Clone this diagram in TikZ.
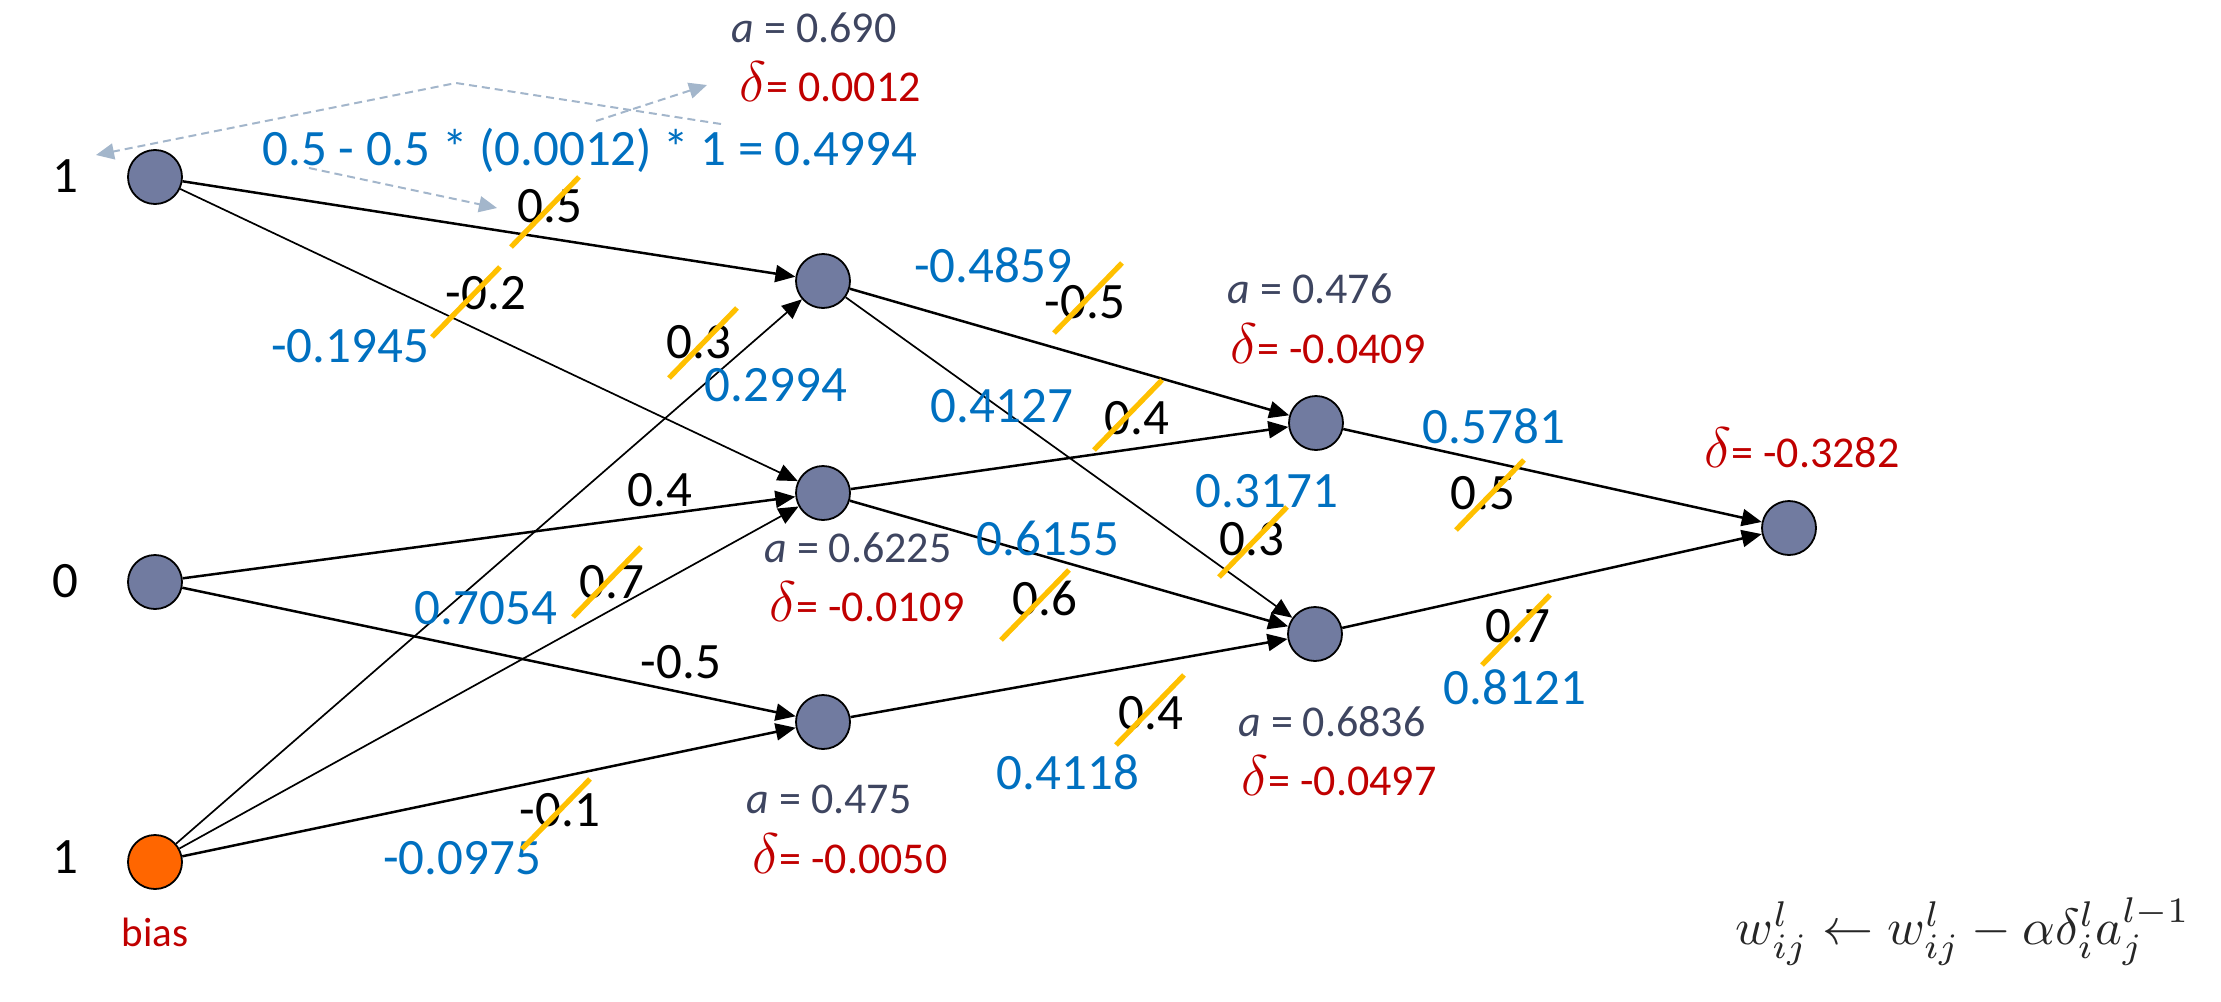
\documentclass[tikz,border=0pt]{standalone}
\usepackage{fix-cm}
\usepackage{fontspec}
\setmainfont{Carlito}
\usetikzlibrary{arrows.meta}
\definecolor{nodefill}{HTML}{717BA0}
\definecolor{biasfill}{HTML}{FF6600}
\definecolor{newblue}{HTML}{0070C0}
\definecolor{delred}{HTML}{C00000}
\definecolor{actgray}{HTML}{3E4560}
\definecolor{slashy}{HTML}{FFC000}
\definecolor{dashc}{HTML}{A3B6CB}
\newcommand{\wslash}[2]{\draw[slash] (#1-34,#2+35) -- ++(68,-70);}
\newcommand{\dlt}{\scalebox{1.3}{$\delta$}}
\begin{document}
\begin{tikzpicture}[x=0.5pt,y=-0.5pt,
  neuron/.style={circle,draw=black,line width=0.9pt,fill=nodefill,minimum size=27pt,inner sep=0pt},
  biasn/.style={neuron,fill=biasfill},
  wt/.style={font=\fontsize{25.5}{30}\selectfont,text=black,inner sep=0pt},
  nw/.style={wt,text=newblue},
  inl/.style={wt},
  act/.style={font=\fontsize{22}{26}\selectfont,text=actgray,inner sep=0pt},
  del/.style={act,text=delred},
  edge/.style={line width=1.25pt,-{Triangle[length=10pt,width=8.5pt]}},
  thinedge/.style={edge,line width=0.85pt},
  slash/.style={line width=2.6pt,slashy},
  dasharrow/.style={dashc,line width=1pt,dash pattern=on 4pt off 2.5pt,-{Triangle[length=9pt,width=8pt]}}
]
\useasboundingbox (0,0) rectangle (2221,1001);
% neurons
\node[neuron] (i1) at (155,177) {};
\node[neuron] (i2) at (155,582) {};
\node[biasn] (b) at (155,862) {};
\node[neuron] (h1) at (823,281) {};
\node[neuron] (h2) at (823,493) {};
\node[neuron] (h3) at (823,722) {};
\node[neuron] (j1) at (1316,423) {};
\node[neuron] (j2) at (1315,634) {};
\node[neuron] (o) at (1789,528) {};
% input labels
\node[inl] (l1) at (65,176) {1};
\node[inl] (l0) at (65,581) {0};
\node[inl] (lb) at (65,857) {1};
\node[font=\fontsize{20.5}{24}\selectfont,text=delred,inner sep=0pt] (biastxt) at (155,932) {bias};
% edges
\draw[edge] (i1) -- (h1);
\draw[thinedge] (i1) -- (h2);
\draw[edge] (i2) -- (h2);
\draw[edge] (i2) -- (h3);
\draw[thinedge] (b) -- (h1);
\draw[thinedge] (b) -- (h2);
\draw[edge] (b) -- (h3);
\draw[edge] (h1) -- (j1);
\draw[thinedge] (h1) -- (j2);
\draw[edge] (h2) -- (j1);
\draw[edge] (h2) -- (j2);
\draw[edge] (h3) -- (j2);
\draw[edge] (j1) -- (o);
\draw[edge] (j2) -- (o);
% old weights
\node[wt] (w1) at (550,206) {0.5};
\node[wt] (w2) at (486,293) {-0.2};
\node[wt] (w3) at (660,490) {0.4};
\node[wt] (w4) at (681,662) {-0.5};
\node[wt] (w5) at (699,342) {0.3};
\node[wt] (w6) at (612,582) {0.7};
\node[wt] (w7) at (560,810) {-0.1};
\node[wt] (w8) at (1085,302) {-0.5};
\node[wt] (w9) at (1137,418) {0.4};
\node[wt] (w10) at (1252,539) {0.3};
\node[wt] (w11) at (1045,598) {0.6};
\node[wt] (w12) at (1151,713) {0.4};
\node[wt] (w13) at (1483,493) {0.5};
\node[wt] (w14) at (1518,626) {0.7};
% new weights
\node[nw] (n1) at (590,150) {0.5 - 0.5 * (0.0012) * 1 = 0.4994};
\node[nw] (n2) at (350,346) {-0.1945};
\node[nw] (n5) at (776,385) {0.2994};
\node[nw] (n6) at (486,608) {0.7054};
\node[nw] (n7) at (462,858) {-0.0975};
\node[nw] (n8) at (993,265) {-0.4859};
\node[nw] (n9) at (1002,406) {0.4127};
\node[nw] (n10) at (1267,491) {0.3171};
\node[nw] (n11) at (1048,538) {0.6155};
\node[nw] (n12) at (1068,772) {0.4118};
\node[nw] (n13) at (1494,426) {0.5781};
\node[nw] (n14) at (1515,687) {0.8121};
% activations and deltas
\node[act] (a1) at (814,28) {\textit{a} = 0.690};
\node[del] (d1) at (830,82) {\dlt= 0.0012};
\node[act] (a2) at (1310,289) {\textit{a} = 0.476};
\node[del] (d2) at (1328,344) {\dlt= -0.0409};
\node[act] (a3) at (858,548) {\textit{a} = 0.6225};
\node[del] (d3) at (867,602) {\dlt= -0.0109};
\node[act] (a4) at (829,799) {\textit{a} = 0.475};
\node[del] (d4) at (850,854) {\dlt= -0.0050};
\node[act] (a5) at (1332,722) {\textit{a} = 0.6836};
\node[del] (d5) at (1339,776) {\dlt= -0.0497};
\node[del] (d6) at (1802,448) {\dlt= -0.3282};
% formula
\node[text=black!85,inner sep=0pt] (rule) at (1963,932) {\scalebox{2.55}{$w^l_{ij} \leftarrow w^l_{ij} - \alpha\delta^l_i a^{l-1}_j$}};
% strike slashes
\wslash{545}{212}
\wslash{466}{302}
\wslash{703}{343}
\wslash{607}{582}
\wslash{556}{814}
\wslash{1088}{298}
\wslash{1128}{415}
\wslash{1035}{605}
\wslash{1253}{542}
\wslash{1490}{495}
\wslash{1516}{630}
\wslash{1150}{710}
% dashed annotation arrows
\coordinate (d1s) at (721,124);
\coordinate (d1m) at (456,83);
\coordinate (d1e) at (96,155);
\coordinate (d2s) at (309,168);
\coordinate (d2e) at (497,208);
\coordinate (d3s) at (596,121);
\coordinate (d3e) at (707,85);
\draw[dasharrow] (d1s) -- (d1m) -- (d1e);
\draw[dasharrow] (d2s) -- (d2e);
\draw[dasharrow] (d3s) -- (d3e);
\end{tikzpicture}
\end{document}
